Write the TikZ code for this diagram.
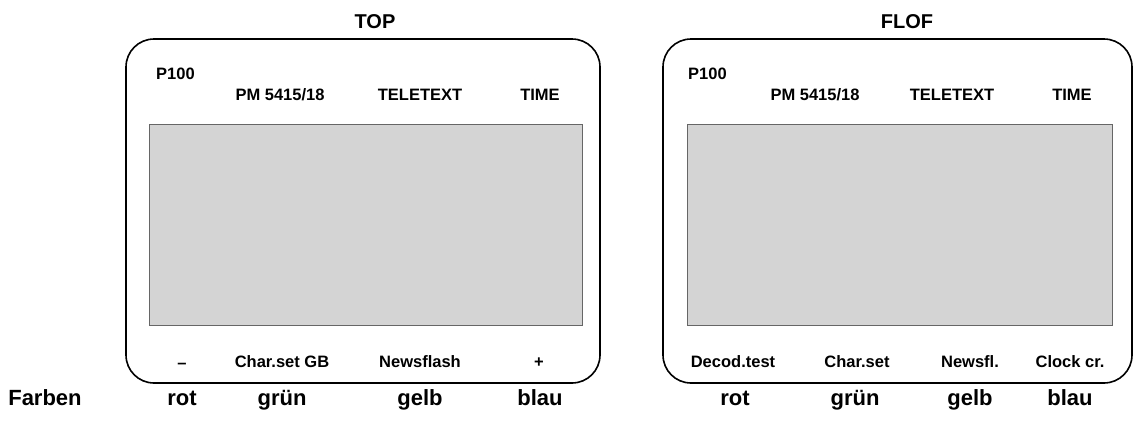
\documentclass[tikz,border=0pt]{standalone}
\usepackage{fontspec}
\setmainfont{Liberation Sans}
\begin{document}
\begin{tikzpicture}[
x=1pt, y=-1pt,
frame/.style={
draw,
line width=1.6pt,
rounded corners=28pt
},
screen/.style={
draw=black!60,
line width=0.5pt,
fill=black!17
},
title/.style={font=\bfseries\fontsize{20}{22}\selectfont, anchor=base},
label/.style={font=\bfseries\fontsize{16.5}{18}\selectfont, inner sep=0pt, anchor=base},
farbe/.style={font=\bfseries\fontsize{22}{24}\selectfont, inner sep=0pt, anchor=base}
]
\useasboundingbox (0,0) rectangle (1144,421);
% TOP
\node[title] (topTitel) at (375,28) {TOP};
\draw[frame] (126,39) rectangle (600,383);
\draw[screen] (149,124) rectangle (582,325);
\node[label, anchor=base west] (topSeite) at (156,79) {P100};
\node[label] (topPM) at (280,100) {PM 5415/18};
\node[label] (topTeletext) at (420,100) {TELETEXT};
\node[label] (topTime) at (540,100) {TIME};
\node[label] (topMinus) at (182,368) {--};
\node[label] (topCharset) at (282,367) {Char.set GB};
\node[label] (topNewsflash) at (420,367) {Newsflash};
\node[label] (topPlus) at (539,367) {+};
\node[farbe] (topRot) at (182,405) {rot};
\node[farbe] (topGruen) at (282,405) {grün};
\node[farbe] (topGelb) at (420,405) {gelb};
\node[farbe] (topBlau) at (540,405) {blau};
% FLOF
\node[title] (flofTitel) at (907,28) {FLOF};
\draw[frame] (663,39) rectangle (1132,383);
\draw[screen] (687,124) rectangle (1112,325);
\node[label, anchor=base west] (flofSeite) at (688,79) {P100};
\node[label] (flofPM) at (815,100) {PM 5415/18};
\node[label] (flofTeletext) at (952,100) {TELETEXT};
\node[label] (flofTime) at (1072,100) {TIME};
\node[label] (flofDecod) at (733,367) {Decod.test};
\node[label] (flofCharset) at (857,367) {Char.set};
\node[label] (flofNewsfl) at (970,367) {Newsfl.};
\node[label] (flofClock) at (1070,367) {Clock cr.};
\node[farbe] (flofRot) at (735,405) {rot};
\node[farbe] (flofGruen) at (855,405) {grün};
\node[farbe] (flofGelb) at (970,405) {gelb};
\node[farbe] (flofBlau) at (1070,405) {blau};
\node[farbe] (farben) at (45,405) {Farben};
\end{tikzpicture}
\end{document}
